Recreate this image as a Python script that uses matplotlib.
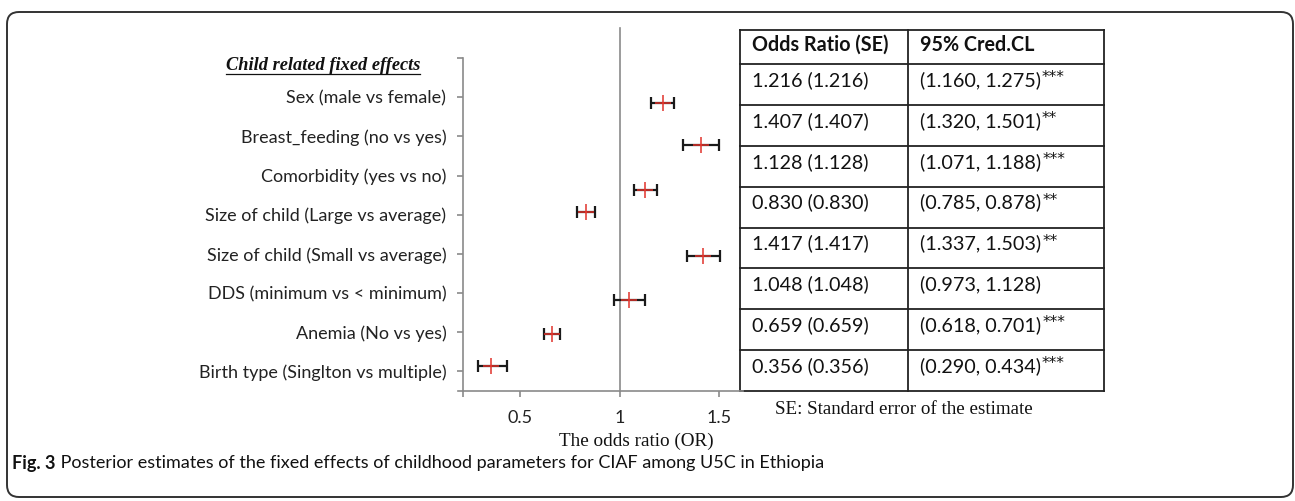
import numpy as np
import matplotlib
matplotlib.use("Agg")
import matplotlib.pyplot as plt
from matplotlib.patches import FancyBboxPatch

# ---- data ----
labels = ["Sex (male vs female)", "Breast_feeding (no vs yes)", "Comorbidity (yes vs no)",
          "Size of child (Large vs average)", "Size of child (Small vs average)",
          "DDS (minimum vs < minimum)", "Anemia (No vs yes)", "Birth type (Singlton vs multiple)"]
odds = np.array([1.216, 1.407, 1.128, 0.830, 1.417, 1.048, 0.659, 0.356])
se = np.array([1.216, 1.407, 1.128, 0.830, 1.417, 1.048, 0.659, 0.356])
ci_low = np.array([1.160, 1.320, 1.071, 0.785, 1.337, 0.973, 0.618, 0.290])
ci_high = np.array([1.275, 1.501, 1.188, 0.878, 1.503, 1.128, 0.701, 0.434])
stars = ["***", "**", "***", "**", "**", "", "***", "***"]
# markers sit a little below their tick in the original
y_pts = np.array([6.86, 5.78, 4.63, 4.06, 2.94, 1.83, 0.96, 0.14])
heading = "Child related fixed effects"
col_heads = ["Odds Ratio (SE)", "95% Cred.CL"]
xticks = [0.5, 1, 1.5]
xlabel = "The odds ratio (OR)"
note = "SE: Standard error of the estimate"
cap_bold = "Fig. 3"
cap_text = "Posterior estimates of the fixed effects of childhood parameters for CIAF among U5C in Ethiopia"

W, H = 1295, 501
SANS = "Lato"
SERIF = "Liberation Serif"
GRAY = "#8a8a8a"
INK = "#111111"

fig = plt.figure(figsize=(W / 100, H / 100), dpi=100)

# background axes in pixel units for the frame, table and caption
bg = fig.add_axes([0, 0, 1, 1], zorder=0)
bg.set_xlim(0, W)
bg.set_ylim(H, 0)
bg.axis("off")

# ---- forest plot ----
ax = fig.add_axes([463 / W, 1 - 391 / H, 280 / W, 333 / H], zorder=2)
ax.patch.set_alpha(0)
n = len(labels)
ax.errorbar(odds, y_pts, xerr=[odds - ci_low, ci_high - odds], fmt="none",
            ecolor="#1a1a1a", elinewidth=1.6, capsize=4, capthick=1.6, zorder=3)
ax.plot(odds, y_pts, "+", color="#e0332b", ms=12, mew=1.1, zorder=4)
ax.axvline(1, ymin=0, ymax=(391 - 28) / 333, color=GRAY, lw=1.2, clip_on=False, zorder=1)

ax.set_xlim(0.213, 1.62)
ax.set_ylim(-0.5, 8)
ax.set_xticks([0.213] + xticks)
ax.set_xticklabels([""] + [f"{t:g}" for t in xticks], fontsize=13, family=SANS, color="#222222")
ax.set_yticks(list(range(n + 1)))
ax.set_yticklabels(labels[::-1] + [""], fontsize=13, family=SANS, color="#222222")
for s in ["top", "right"]:
    ax.spines[s].set_visible(False)
for s in ["left", "bottom"]:
    ax.spines[s].set_color(GRAY)
    ax.spines[s].set_linewidth(1.2)
ax.tick_params(axis="y", length=4, width=1.2, color=GRAY, pad=8)
ax.tick_params(axis="x", length=4, width=1.2, color=GRAY, pad=10)
# axis line pokes out a little left of the y spine
bg.plot([458, 463], [391, 391], color=GRAY, lw=1.2)

bg.text(636, 441, xlabel, family=SERIF, fontsize=13.8, ha="center", va="center", color=INK)

# heading with underline
fig.canvas.draw()
r = fig.canvas.get_renderer()
ht = bg.text(420, 65, heading, family=SERIF, fontsize=13.2, style="italic", weight="bold",
             ha="right", va="center", color=INK)
bb = ht.get_window_extent(r)
bg.plot([bb.x0, bb.x1], [74, 74], color=INK, lw=0.9)

# ---- table ----
tx0, tx1, tx2 = 740, 908, 1104
rows = np.linspace(64, 391, n + 1)
for yy in [30] + list(rows):
    bg.plot([tx0, tx2], [yy, yy], color="#222222", lw=1.3)
for xx in [tx0, tx1, tx2]:
    bg.plot([xx, xx], [30, 391], color="#222222", lw=1.3)

bg.text(752, 45, col_heads[0], family=SANS, weight="bold", fontsize=14.2, va="center", color=INK)
bg.text(920, 45, col_heads[1], family=SANS, weight="bold", fontsize=14.2, va="center", color=INK)
for i in range(n):
    yc = rows[i] + 16
    bg.text(752, yc, f"{odds[i]:.3f} ({se[i]:.3f})", family=SANS, fontsize=14.2,
            va="center", color=INK)
    t = bg.text(920, yc, f"({ci_low[i]:.3f}, {ci_high[i]:.3f})", family=SANS, fontsize=14.2,
                va="center", color=INK)
    if stars[i]:
        e = t.get_window_extent(r)
        bg.annotate(stars[i], xy=(e.x1 + 1, e.y1 + 1), xycoords="figure pixels",
                    family="DejaVu Sans", fontsize=11, va="top", ha="left", color=INK)

bg.text(775, 410, note, family=SERIF, fontsize=13.7, va="center", color=INK)

# ---- caption and frame ----
cb = bg.text(12, 463, cap_bold, family=SANS, weight="bold", fontsize=13, va="center", color=INK)
e = cb.get_window_extent(r)
bg.annotate(" " + cap_text, xy=(e.x1, (e.y0 + e.y1) / 2), xycoords="figure pixels",
            family=SANS, fontsize=13, va="center", ha="left", color=INK)

frame = FancyBboxPatch((7, 12), 1286, 485, boxstyle="round,pad=0,rounding_size=12",
                       fc="none", ec="#333333", lw=1.4)
bg.add_patch(frame)

fig.savefig("out.png", dpi=100)
